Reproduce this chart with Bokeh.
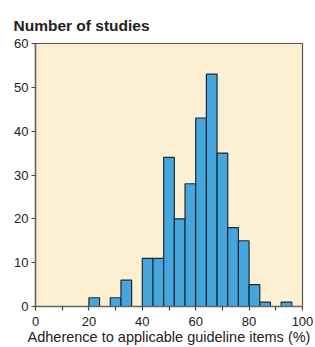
from bokeh.plotting import figure
from bokeh.models import FixedTicker, ColumnDataSource
from bokeh.embed import file_html
from bokeh.resources import INLINE

# Data (bin width 4 %)
bin_start = [20, 24, 28, 32, 36, 40, 44, 48, 52, 56, 60, 64, 68, 72, 76, 80, 84, 88, 92]
counts = [2, 0, 2, 6, 0, 11, 11, 34, 20, 28, 43, 53, 35, 18, 15, 5, 1, 0, 1]
bin_width = 4
x_ticks = [0, 10, 20, 30, 40, 50, 60, 70, 80, 90, 100]
x_labels = {0: "0", 10: "", 20: "20", 30: "", 40: "40", 50: "", 60: "60", 70: "", 80: "80", 90: "", 100: "100"}
y_ticks = [0, 10, 20, 30, 40, 50, 60]

lefts = [b for b, c in zip(bin_start, counts) if c > 0]
rights = [b + bin_width for b, c in zip(bin_start, counts) if c > 0]
tops = [c for c in counts if c > 0]
src = ColumnDataSource(dict(left=lefts, right=rights, top=tops, bottom=[0] * len(tops)))

FONT = "Liberation Sans"
p = figure(width=315, height=347, output_backend="svg", toolbar_location=None,
           x_range=(0, 100), y_range=(0, 60),
           min_border_left=35, min_border_right=13, min_border_top=43, min_border_bottom=40)

p.border_fill_color = "#ffffff"
p.background_fill_color = "#fdefd2"
p.outline_line_color = "#555555"
p.outline_line_width = 1.2
p.grid.visible = False

p.quad(left="left", right="right", top="top", bottom="bottom", source=src,
       fill_color="#45a6dd", line_color="#1f2a33", line_width=1.2)

p.title.text = "Number of studies"
p.title.text_font = FONT
p.title.text_font_size = "15.5px"
p.title.text_font_style = "bold"
p.title.text_color = "#222222"
p.title.align = "left"
p.title.offset = -22
p.title.standoff = 20

for ax in (p.xaxis[0], p.yaxis[0]):
    ax.axis_line_color = "#666666"
    ax.axis_line_width = 1.5
    ax.major_tick_line_color = "#444444"
    ax.major_tick_line_width = 1.2
    ax.major_tick_out = 4
    ax.major_tick_in = 0
    ax.minor_tick_line_color = None
    ax.major_label_text_font = FONT
    ax.major_label_text_font_size = "13px"
    ax.major_label_text_color = "#222222"

p.xaxis[0].ticker = FixedTicker(ticks=x_ticks)
p.xaxis[0].major_label_overrides = x_labels
p.xaxis[0].major_label_standoff = 6
p.xaxis[0].axis_label = "Adherence to applicable guideline items (%)"
p.xaxis[0].axis_label_text_font = FONT
p.xaxis[0].axis_label_text_font_size = "14.5px"
p.xaxis[0].axis_label_text_font_style = "normal"
p.xaxis[0].axis_label_text_color = "#222222"
p.xaxis[0].axis_label_standoff = 0

p.yaxis[0].ticker = FixedTicker(ticks=y_ticks)
p.yaxis[0].major_label_standoff = 3

open("out.html", "w").write(file_html(p, INLINE))
